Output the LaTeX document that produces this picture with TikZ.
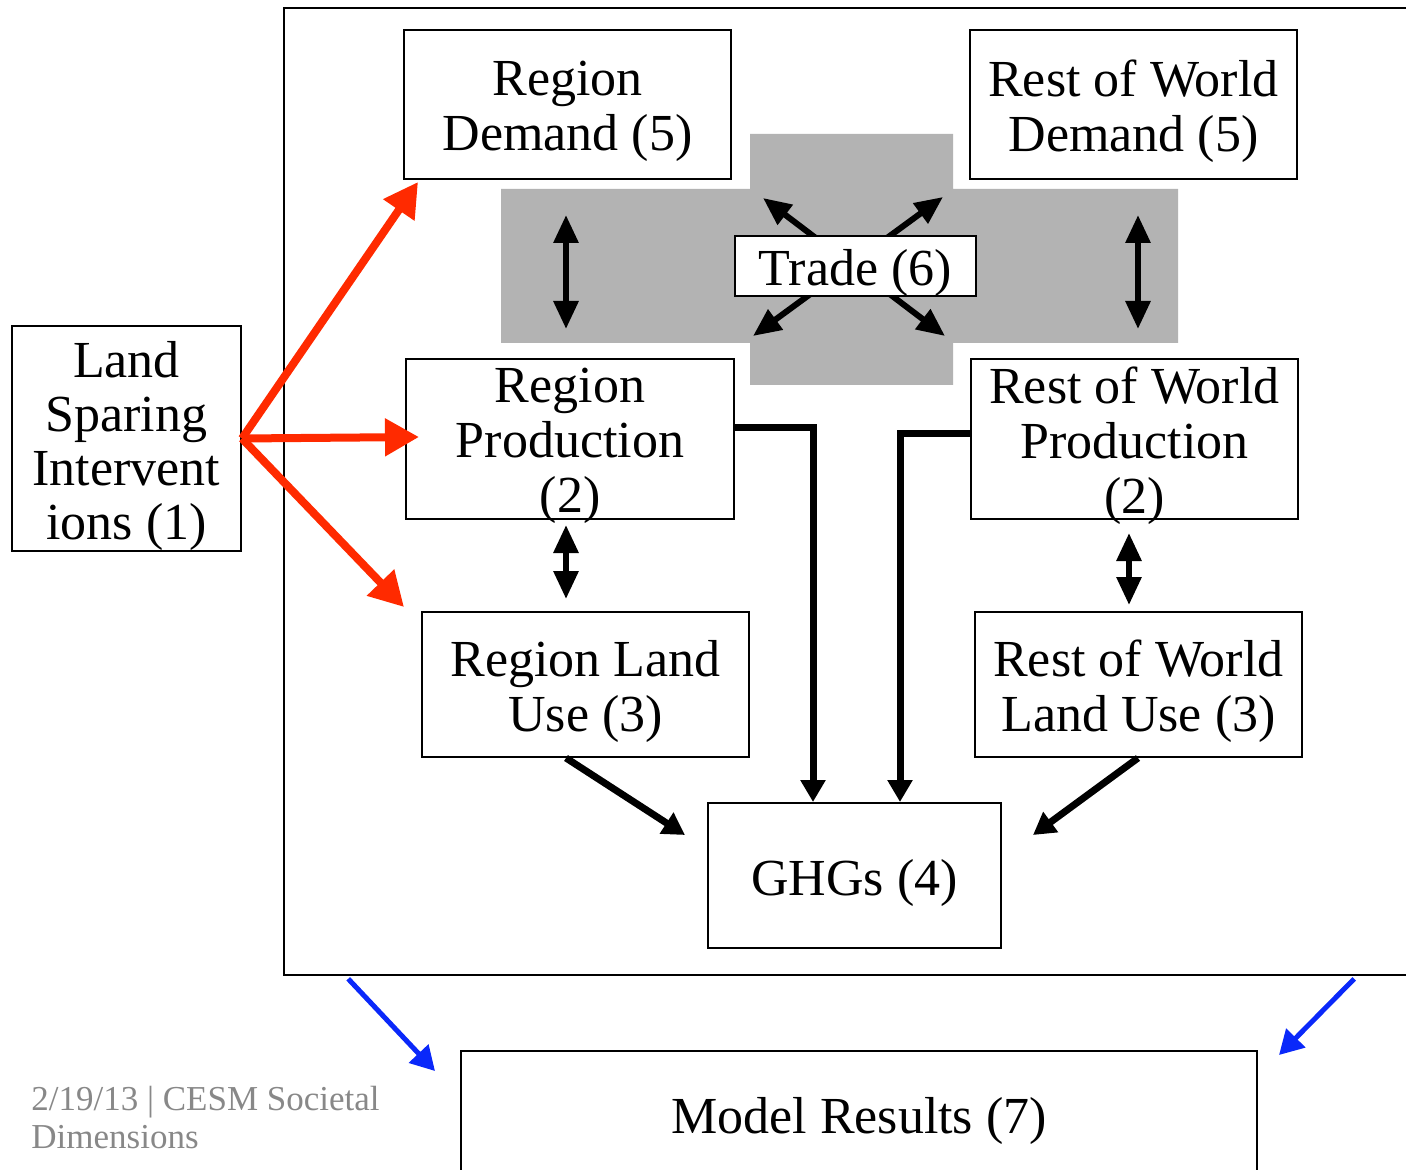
\documentclass[tikz,border=0pt]{standalone}
\usepackage{fontspec}
\setmainfont{Liberation Serif}
\usetikzlibrary{arrows.meta,calc}
\definecolor{redarr}{RGB}{255,42,0}
\definecolor{bluearr}{RGB}{10,40,250}
\definecolor{tradegray}{RGB}{179,179,179}
\definecolor{footgray}{RGB}{136,136,136}
\tikzset{
 box/.style={draw, line width=1pt, fill=white, inner sep=0pt},
 txt/.style={inner sep=0pt, align=center, font=\fontsize{26}{27.5}\selectfont},
 redarrow/.style={draw=redarr, line width=4pt, -{Triangle[length=17pt,width=18pt]}, fill=redarr},
 blackarrow/.style={line width=3.5pt, -{Triangle[length=11pt,width=12pt]}},
 dblarrow/.style={line width=3pt, {Triangle[length=14pt,width=12pt]}-{Triangle[length=14pt,width=12pt]}},
 bluearrow/.style={draw=bluearr, line width=2.5pt, -{Triangle[length=12pt,width=13pt]}},
}
\begin{document}
\begin{tikzpicture}[x=0.5pt,y=-0.5pt]
\useasboundingbox (0,0) rectangle (1406,1170);
% outer frame (open at right, beyond the page)
\node[draw, line width=0.8pt, minimum width=568pt, minimum height=483.5pt, inner sep=0pt] (outer) at (852,491.5) {};
% gray trade cross
\fill[tradegray] (750,134) -- (953,134) -- (953,189) -- (1178,189) -- (1178,343) -- (953,343) -- (953,385) -- (750,385) -- (750,343) -- (501,343) -- (501,189) -- (750,189) -- cycle;

\node[box, minimum width=163.5pt, minimum height=74.5pt] (rd) at (567.5,104.5) {};
\node[txt] (rdT) at ($(rd)+(0,7)$) {Region\\Demand (5)};
\node[box, minimum width=163.5pt, minimum height=74.5pt] (rwd) at (1133.5,104.5) {};
\node[txt] (rwdT) at ($(rwd)+(0,7)$) {Rest of World\\Demand (5)};
\node[box, minimum width=164pt, minimum height=80pt] (rp) at (570,439) {};
\node[txt] (rpT) at ($(rp)+(0,7)$) {Region\\Production\\(2)};
\node[box, minimum width=163.5pt, minimum height=80pt] (rwp) at (1134.5,439) {};
\node[txt] (rwpT) at ($(rwp)+(0,7)$) {Rest of World\\Production\\(2)};
\node[box, minimum width=163.5pt, minimum height=72.5pt] (rlu) at (585.5,684.5) {};
\node[txt] (rluT) at ($(rlu)+(0,7)$) {Region Land\\Use (3)};
\node[box, minimum width=163.5pt, minimum height=72.5pt] (rwlu) at (1138.5,684.5) {};
\node[txt] (rwluT) at ($(rwlu)+(0,7)$) {Rest of World\\Land Use (3)};
\node[box, minimum width=146.5pt, minimum height=72.5pt] (ghg) at (854.5,875.5) {};
\node[txt] (ghgT) at ($(ghg)+(0,7)$) {GHGs (4)};
\node[box, minimum width=114.5pt, minimum height=112.5pt] (ls) at (126.5,438.5) {};
\node[txt, font=\fontsize{26}{27}\selectfont] (lsT) at ($(ls)+(0,7)$) {Land\\Sparing\\Intervent\\ions (1)};
\node[box, minimum width=398pt, minimum height=69.5pt] (mr) at (859,1120.5) {};
\node[txt] (mrT) at ($(mr)+(0,0)$) {Model Results (7)};

% trade diagonals (under trade box)
\coordinate (tc) at (855.5,266);
\draw[dblarrow] ($(tc)+(-92.5,-68)$) -- ($(tc)+(89.5,70)$);
\draw[dblarrow] ($(tc)+(87.5,-69)$) -- ($(tc)+(-102.5,70)$);
\node[box, minimum width=120.5pt, minimum height=30pt] (trade) at (tc) {};
\node[txt] (tradeT) at ($(trade)+(0,7)$) {Trade (6)};

% vertical double arrows
\draw[dblarrow] ($(rd.south)+(-1.5,35)$) -- ($(rp.north)+(-4,-29)$);
\draw[dblarrow] ($(rwd.south)+(4.5,35)$) -- ($(rwp.north)+(3.5,-29)$);
\draw[dblarrow] ($(rp.south)+(-4,5)$) -- ($(rlu.north)+(-19.5,-12)$);
\draw[dblarrow] ($(rwp.south)+(-5.5,13)$) -- ($(rwlu.north)+(-9.5,-6)$);

% production to GHGs
\draw[blackarrow] ($(rp.east)+(0,-11)$) -| ($(ghg.north)+(-41.5,0)$);
\draw[blackarrow] ($(rwp.west)+(0,-5)$) -| ($(ghg.north)+(45.5,0)$);
% land use to GHGs
\draw[blackarrow] ($(rlu.south)+(-19.5,0)$) -- ($(ghg.west)+(-22,-40.5)$);
\draw[blackarrow] ($(rwlu.south)+(-0.5,0)$) -- ($(ghg.east)+(31,-40.5)$);

% red arrows
\draw[redarrow] (ls.east) -- ($(rd.south west)+(15,2)$);
\draw[redarrow] (ls.east) -- ($(rp.west)+(14,-2)$);
\draw[redarrow] (ls.east) -- ($(rlu.north west)+(-17,-4)$);

% blue arrows
\draw[bluearrow] ($(outer.south west)+(65,3)$) -- ($(mr.north west)+(-25,21)$);
\draw[bluearrow] ($(outer.south west)+(1071,3)$) -- ($(mr.north east)+(21,5)$);

% footer
\node[font=\fontsize{17.5}{19}\selectfont, text=footgray, align=left, anchor=north west, inner sep=0pt] (foot) at (31,1086) {2/19/13 | CESM Societal\\Dimensions};
\end{tikzpicture}
\end{document}
